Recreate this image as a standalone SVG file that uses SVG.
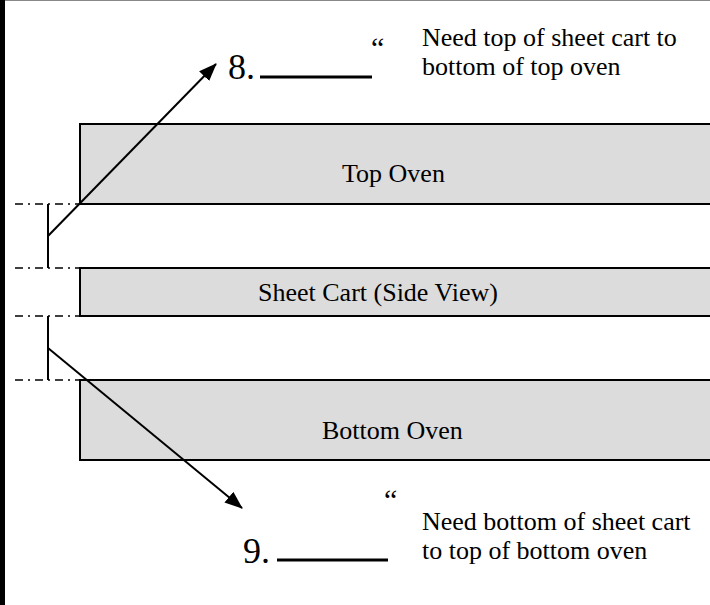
<svg xmlns="http://www.w3.org/2000/svg" width="710" height="605" viewBox="0 0 710 605">
<style>
.box{fill:#dcdcdc;stroke:#000;stroke-width:2}
.lbl{font-family:"Liberation Serif","Times New Roman",serif;font-size:26px;fill:#000}
.num{font-family:"Liberation Serif","Times New Roman",serif;font-size:36px;fill:#000}
.q{font-family:"Liberation Serif","Times New Roman",serif;font-size:30px;fill:#000}
.dd{stroke:#000;stroke-width:1.6;stroke-dasharray:8 5 2 5;fill:none}
.ln{stroke:#000;stroke-width:2;fill:none}
</style>
<defs>
<marker id="ah" markerWidth="18" markerHeight="14" refX="17" refY="7" orient="auto" markerUnits="userSpaceOnUse" viewBox="0 0 18 14">
<path d="M0,0 L18,7 L0,14 z" fill="#000"/>
</marker>
</defs>
<rect x="0" y="0" width="710" height="605" fill="#fff"/>
<rect x="0" y="0" width="5" height="605" fill="#000"/>
<line x1="5" y1="0.5" x2="710" y2="0.5" stroke="#888" stroke-width="1"/>
<g id="top-oven"><rect class="box" x="80" y="124" width="640" height="80"/><text class="lbl" x="342" y="182">Top Oven</text></g>
<g id="sheet-cart"><rect class="box" x="80" y="268" width="640" height="48"/><text class="lbl" x="258" y="301">Sheet Cart (Side View)</text></g>
<g id="bottom-oven"><rect class="box" x="80" y="380" width="640" height="80"/><text class="lbl" x="322" y="439">Bottom Oven</text></g>
<g id="connectors">
<line class="dd" x1="15" y1="204" x2="178" y2="204"/>
<line class="dd" x1="15" y1="268" x2="178" y2="268"/>
<line class="dd" x1="15" y1="316" x2="178" y2="316"/>
<line class="dd" x1="15" y1="380" x2="178" y2="380"/>
<line class="ln" x1="48" y1="204" x2="48" y2="268"/>
<line class="ln" x1="48" y1="316" x2="48" y2="380"/>
<line class="ln" x1="48" y1="236" x2="216" y2="64" marker-end="url(#ah)"/>
<line class="ln" x1="48" y1="348" x2="242" y2="508" marker-end="url(#ah)"/>
</g>
<g id="label-8">
<text class="num" x="228" y="79">8.</text>
<line x1="260" y1="77" x2="372" y2="77" stroke="#000" stroke-width="3"/>
<text class="q" x="371" y="58">“</text>
<text class="lbl" x="422" y="46">Need top of sheet cart to</text>
<text class="lbl" x="422" y="75">bottom of top oven</text>
</g>
<g id="label-9">
<text class="num" x="243" y="563">9.</text>
<line x1="277" y1="560" x2="388" y2="560" stroke="#000" stroke-width="3"/>
<text class="q" x="384" y="510">“</text>
<text class="lbl" x="422" y="530">Need bottom of sheet cart</text>
<text class="lbl" x="422" y="559">to top of bottom oven</text>
</g>
</svg>
